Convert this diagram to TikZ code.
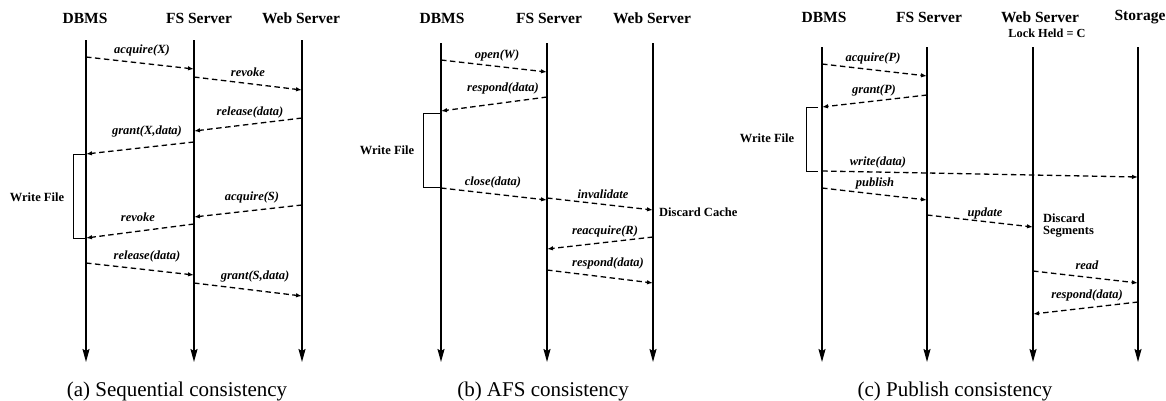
\documentclass[tikz,border=0pt]{standalone}
\usepackage{fontspec}
\setmainfont{Liberation Serif}
\usetikzlibrary{arrows.meta}
\begin{document}
\begin{tikzpicture}[x=1pt,y=-1pt,
  life/.style={line width=1.6pt,-{Stealth[length=13pt,width=7pt,inset=2pt]}},
  msg/.style={line width=1.3pt,dash pattern=on 5.5pt off 3.5pt,-{Latex[length=6pt,width=4.5pt]}},
  bracket/.style={line width=1pt},
  hdr/.style={font=\bfseries\fontsize{15.5}{18}\selectfont,inner sep=0pt},
  subhdr/.style={font=\bfseries\fontsize{12.3}{14}\selectfont,inner sep=0pt},
  lbl/.style={font=\bfseries\itshape\fontsize{12.5}{14}\selectfont,inner sep=0pt},
  note/.style={font=\bfseries\fontsize{12.5}{14}\selectfont,inner sep=0pt,align=left},
  captxt/.style={font=\fontsize{21}{24}\selectfont,inner sep=0pt}]
\useasboundingbox (0,0) rectangle (1166,400);

% ---------------- panel (a)
\node[hdr] (aDh) at (85,18) {DBMS};
\node[hdr] (aFh) at (199,18) {FS Server};
\node[hdr] (aWh) at (301,18) {Web Server};
\coordinate (aD) at (86,40);  \coordinate (aDe) at (86,362);
\coordinate (aF) at (194,40); \coordinate (aFe) at (194,362);
\coordinate (aW) at (302,40); \coordinate (aWe) at (302,362);
\draw[life] (aD) -- (aDe);
\draw[life] (aF) -- (aFe);
\draw[life] (aW) -- (aWe);
\draw[msg] (aD |- 0,57) -- (aF |- 0,69);
\node[lbl] (a1) at (142,50) {acquire(X)};
\draw[msg] (aF |- 0,77) -- (aW |- 0,90);
\node[lbl] (a2) at (248,72) {revoke};
\draw[msg] (aW |- 0,118) -- (aF |- 0,131);
\node[lbl] (a3) at (250,112) {release(data)};
\draw[msg] (aF |- 0,142) -- (aD |- 0,154);
\node[lbl] (a4) at (147,131) {grant(X,data)};
\draw[bracket] (aD |- 0,154) -| (73,238) -- (aD |- 0,238);
\node[note] (a5) at (37,197) {Write File};
\draw[msg] (aW |- 0,205) -- (aF |- 0,217);
\node[lbl] (a6) at (252,197) {acquire(S)};
\draw[msg] (aF |- 0,224) -- (aD |- 0,238);
\node[lbl] (a7) at (138,217) {revoke};
\draw[msg] (aD |- 0,263) -- (aF |- 0,275);
\node[lbl] (a8) at (147,256) {release(data)};
\draw[msg] (aF |- 0,283) -- (aW |- 0,296);
\node[lbl] (a9) at (255,276) {grant(S,data)};
\node[captxt] (acap) at (177,391) {(a) Sequential consistency};

% ---------------- panel (b)
\node[hdr] (bDh) at (442,18) {DBMS};
\node[hdr] (bFh) at (549,18) {FS Server};
\node[hdr] (bWh) at (652,18) {Web Server};
\coordinate (bD) at (441,43);  \coordinate (bDe) at (441,362);
\coordinate (bF) at (547,43);  \coordinate (bFe) at (547,362);
\coordinate (bW) at (653,43);  \coordinate (bWe) at (653,362);
\draw[life] (bD) -- (bDe);
\draw[life] (bF) -- (bFe);
\draw[life] (bW) -- (bWe);
\draw[msg] (bD |- 0,60) -- (bF |- 0,72);
\node[lbl] (b1) at (497,55) {open(W)};
\draw[msg] (bF |- 0,97) -- (bD |- 0,111);
\node[lbl] (b2) at (503,88) {respond(data)};
\draw[bracket] (bD |- 0,113) -| (423,187) -- (bD |- 0,187);
\node[note] (b3) at (387,150) {Write File};
\draw[msg] (bD |- 0,188) -- (bF |- 0,200);
\node[lbl] (b4) at (493,182) {close(data)};
\draw[msg] (bF |- 0,198) -- (bW |- 0,210);
\node[lbl] (b5) at (603,194) {invalidate};
\node[note,anchor=west] (b6) at (659,212) {Discard Cache};
\draw[msg] (bW |- 0,237) -- (bF |- 0,249);
\node[lbl] (b7) at (605,231) {reacquire(R)};
\draw[msg] (bF |- 0,270) -- (bW |- 0,283);
\node[lbl] (b8) at (608,263) {respond(data)};
\node[captxt] (bcap) at (543,391) {(b) AFS consistency};

% ---------------- panel (c)
\node[hdr] (cDh) at (824,17) {DBMS};
\node[hdr] (cFh) at (929,17) {FS Server};
\node[hdr] (cWh) at (1040,17) {Web Server};
\node[hdr] (cSh) at (1140,17) {Storage};
\node[subhdr] (cLh) at (1047,33) {Lock Held = C};
\coordinate (cD) at (822,47);  \coordinate (cDe) at (822,362);
\coordinate (cF) at (927,47);  \coordinate (cFe) at (927,362);
\coordinate (cW) at (1033,47); \coordinate (cWe) at (1033,362);
\coordinate (cS) at (1138,47); \coordinate (cSe) at (1138,362);
\draw[life] (cD) -- (cDe);
\draw[life] (cF) -- (cFe);
\draw[life] (cW) -- (cWe);
\draw[life] (cS) -- (cSe);
\draw[msg] (cD |- 0,64) -- (cF |- 0,76);
\node[lbl] (c1) at (873,58) {acquire(P)};
\draw[msg] (cF |- 0,95) -- (cD |- 0,107);
\node[lbl] (c2) at (874,90) {grant(P)};
\draw[bracket] (818,107) -| (806,171) -- (818,171);
\node[note] (c3) at (767,138) {Write File};
\draw[msg] (cD |- 0,171) -- (cS |- 0,177);
\node[lbl] (c4) at (878,162) {write(data)};
\draw[msg] (cD |- 0,188) -- (cF |- 0,200);
\node[lbl] (c5) at (875,183) {publish};
\draw[msg] (cF |- 0,215) -- (cW |- 0,227);
\node[lbl] (c6) at (985,213) {update};
\node[note,anchor=west] (c7) at (1043,218) {Discard};
\node[note,anchor=west] (c7b) at (1043,232) {Segments};
\draw[msg] (cW |- 0,271) -- (cS |- 0,283);
\node[lbl] (c8) at (1087,265) {read};
\draw[msg] (cS |- 0,302) -- (cW |- 0,314);
\node[lbl] (c9) at (1087,295) {respond(data)};
\node[captxt] (ccap) at (955,391) {(c) Publish consistency};
\end{tikzpicture}
\end{document}
